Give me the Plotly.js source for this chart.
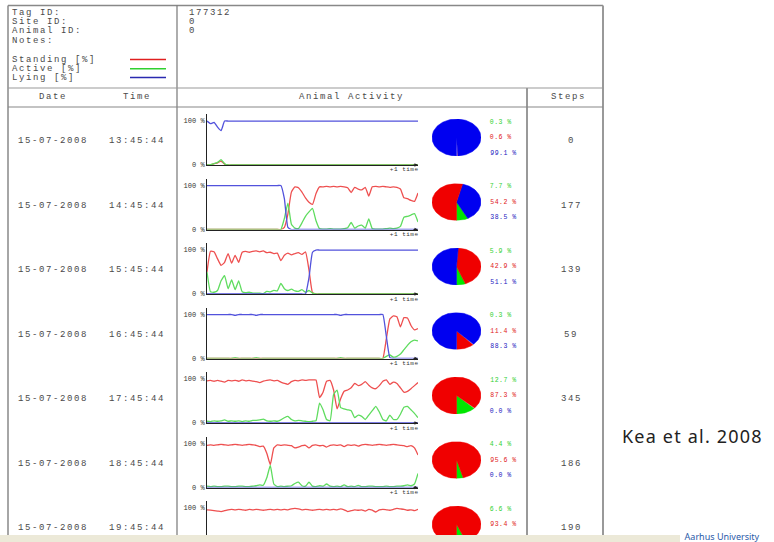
<!DOCTYPE html>
<html><head><meta charset="utf-8">
<script src="https://cdn.plot.ly/plotly-3.0.1.min.js"></script>
<style>html,body{margin:0;padding:0;overflow:hidden;background:#fff;width:774px;height:542px}#chart{width:774px;height:600px}
.annotation-text{letter-spacing:1.6px}</style>
</head><body><div id="chart"></div>
<script>
// ---------- DATA ----------
const dates = ["15-07-2008","15-07-2008","15-07-2008","15-07-2008","15-07-2008","15-07-2008","15-07-2008"];
const times = ["13:45:44","14:45:44","15:45:44","16:45:44","17:45:44","18:45:44","19:45:44"];
const steps = [0,177,139,59,345,186,190];
const activePct   = [0.3, 7.7, 5.9, 0.3, 12.7, 4.4, 6.6];
const standingPct = [0.6, 54.2, 42.9, 11.4, 87.3, 95.6, 93.4];
const lyingPct    = [99.1, 38.5, 51.1, 88.3, 0.0, 0.0, 0.0];
const minutes = [0,1,2,3,4,5,6,7,8,9,10,11,12,13,14,15,16,17,18,19,20,21,22,23,24,25,26,27,28,29,30,
 31,32,33,34,35,36,37,38,39,40,41,42,43,44,45,46,47,48,49,50,51,52,53,54,55,56,57,58,59,60];

const standing1 = [0,0,3,5,9,2,0,0,0,0, 0,0,0,0,0,0,0,0,0,0, 0,0,0,0,0,0,0,0,0,0, 0,0,0,0,0,0,0,0,0,0, 0,0,0,0,0,0,0,0,0,0, 0,0,0,0,0,0,0,0,0,0, 0];
const active1   = [0,1,3,6,12,3,0,0,0,0, 0,0,0,0,0,0,0,0,0,0, 0,0,0,0,0,0,0,0,0,0, 0,0,0,0,0,0,0,0,0,0, 0,0,0,0,0,0,0,0,0,0, 0,0,0,0,0,0,0,0,0,0, 0];
const lying1    = [100,94,97,86,78,100,100,100,100,100, 100,100,100,100,100,100,100,100,100,100, 100,100,100,100,100,100,100,100,100,100, 100,100,100,100,100,100,100,100,100,100, 100,100,100,100,100,100,100,100,100,100, 100,100,100,100,100,100,100,100,100,100, 100];

const standing2 = [0,0,0,0,0,0,0,0,0,0, 0,0,0,0,0,0,0,0,0,0, 0,0,5,35,85,97,95,85,72,62, 57,82,97,97,98,97,98,97,98,97, 95,84,96,92,90,96,76,97,98,97, 98,97,96,97,96,92,72,70,66,64, 83];
const active2   = [0,0,0,0,0,0,0,0,0,0, 0,0,0,0,0,0,0,0,0,0, 0,0,25,60,12,3,2,15,30,40, 48,20,2,1,1,2,1,1,1,2, 4,16,3,8,10,3,24,2,1,1, 1,2,3,2,3,7,28,30,33,36, 17];
const lying2    = [100,100,100,100,100,100,100,100,100,100, 100,100,100,100,100,100,100,100,100,100, 100,100,70,5,0,0,0,0,0,0, 0,0,0,0,0,0,0,0,0,0, 0,0,0,0,0,0,0,0,0,0, 0,0,0,0,0,0,0,0,0,0, 0];

const standing3 = [50,97,96,80,65,72,92,70,88,72, 95,97,95,97,98,96,98,94,95,92, 93,76,88,93,89,92,94,90,96,55, 3,0,0,0,0,0,0,0,0,0, 0,0,0,0,0,0,0,0,0,0, 0,0,0,0,0,0,0,0,0,0, 0];
const active3   = [50,5,4,8,30,42,12,32,10,30, 5,3,4,2,2,2,1,6,5,8, 7,24,12,8,11,7,6,10,4,8, 2,0,0,0,0,0,0,0,0,0, 0,0,0,0,0,0,0,0,0,0, 0,0,0,0,0,0,0,0,0,0, 0];
const lying3    = [0,0,0,0,0,0,0,0,0,0, 0,0,0,0,0,0,0,0,0,0, 0,0,0,0,0,0,0,0,0,37, 95,100,100,100,100,100,100,100,100,100, 100,100,100,100,100,100,100,100,100,100, 100,100,100,100,100,100,100,100,100,100, 100];

const standing4 = [0,0,0,0,0,0,0,0,0,0, 0,0,0,0,0,0,0,0,0,0, 0,0,0,0,0,0,0,0,0,0, 0,0,0,0,0,0,0,0,0,0, 0,0,0,0,0,0,0,0,0,0, 0,45,90,97,95,72,93,92,75,65, 68];
const active4   = [0,0,0,0,0,0,0,0,2,0, 0,0,0,0,2,0,0,0,0,0, 0,0,0,0,0,0,0,0,0,0, 0,0,0,0,0,0,0,0,2,0, 0,0,0,0,0,0,0,0,0,0, 0,5,8,3,5,10,20,30,38,42, 40];
const lying4    = [100,100,100,100,100,100,100,100,98,100, 100,100,100,100,98,100,100,100,100,100, 100,100,100,100,100,100,100,100,100,100, 100,100,100,100,100,100,100,100,98,100, 100,100,100,100,100,100,100,100,100,100, 100,50,2,0,0,0,0,0,0,0, 0];

const standing5 = [96,97,95,97,95,93,97,96,97,95, 98,96,97,95,94,92,95,97,98,96, 97,93,90,88,94,97,96,98,97,98, 98,98,58,70,95,97,75,32,55,72, 75,80,90,85,88,94,86,80,78,85, 95,98,88,93,90,80,70,72,78,85, 92];
const active5   = [4,3,5,4,5,7,4,5,4,5, 3,5,4,6,6,7,9,5,4,5, 4,7,12,15,8,5,6,5,4,3, 4,5,45,30,8,5,65,75,35,32, 30,28,12,18,15,8,18,28,38,25, 8,5,18,8,8,20,36,38,30,22, 12];
const lying5    = [0,0,0,0,0,0,0,0,0,0, 0,0,0,0,0,0,0,0,0,0, 0,0,0,0,0,0,0,0,0,0, 0,0,0,0,0,0,0,0,0,0, 0,0,0,0,0,0,0,0,0,0, 0,0,0,0,0,0,0,0,0,0, 0];

const standing6 = [96,97,96,97,98,97,96,97,98,97, 96,97,98,97,96,93,94,78,52,90, 97,96,97,96,95,90,92,95,96,90, 96,97,95,96,92,96,97,96,97,93, 97,96,97,94,97,98,97,96,97,98, 97,96,97,98,97,96,95,93,95,90, 74];
const active6   = [3,2,3,2,2,3,3,2,2,3, 3,2,2,3,4,6,5,22,50,8, 2,3,2,3,4,9,12,4,3,12, 3,2,4,3,8,3,2,3,2,6, 2,3,2,5,2,2,3,3,2,2, 2,3,2,2,3,3,4,6,4,8, 32];
const lying6    = [0,0,0,0,0,0,0,0,0,0, 0,0,0,0,0,0,0,0,0,0, 0,0,0,0,0,0,0,0,0,0, 0,0,0,0,0,0,0,0,0,0, 0,0,0,0,0,0,0,0,0,0, 0,0,0,0,0,0,0,0,0,0, 0];

const standing7 = [96,95,94,93,92,94,96,97,96,97, 96,95,97,96,97,96,95,96,97,96, 97,96,97,96,98,99,98,96,97,96, 95,96,97,96,97,96,97,96,98,96, 92,94,96,95,96,93,97,95,91,96, 97,96,95,97,99,98,97,95,96,94, 97];
const active7   = [4,5,6,7,8,6,4,3,4,3, 4,5,3,4,3,4,5,4,3,4, 3,4,3,4,2,1,2,4,3,4, 5,4,3,4,3,4,3,4,2,4, 8,6,4,5,4,7,3,5,9,4, 3,4,5,3,1,2,3,5,4,6, 3];
const lying7    = [0,0,0,0,0,0,0,0,0,0, 0,0,0,0,0,0,0,0,0,0, 0,0,0,0,0,0,0,0,0,0, 0,0,0,0,0,0,0,0,0,0, 0,0,0,0,0,0,0,0,0,0, 0,0,0,0,0,0,0,0,0,0, 0];

const legendNames = ["Standing [%]","Active [%]","Lying [%]"];

// ---------- BUILD ----------
const rowsStanding=[standing1,standing2,standing3,standing4,standing5,standing6,standing7];
const rowsActive=[active1,active2,active3,active4,active5,active6,active7];
const rowsLying=[lying1,lying2,lying3,lying4,lying5,lying6,lying7];

const W=774,H=600,GS=1.6;
const PX=x=>x/W, PY=y=>1-y/H;
const lineCol={s:'#ee5050',a:'#5fdc5f',l:'#5252dc'};
const pieCol={s:'#f00000',a:'#00e600',l:'#0000f0'};
const labCol={s:'#e02020',a:'#30d030',l:'#2020c0'};
const mono='"Liberation Mono", "DejaVu Sans Mono", monospace';
const txtCol='#4a4a4a';

const traces=[], layout={width:W,height:H,margin:{l:0,r:0,t:0,b:0},paper_bgcolor:'#fff',plot_bgcolor:'rgba(0,0,0,0)',showlegend:false,annotations:[],shapes:[]};
const spacingOverride=[]; // [annotation index, letter-spacing px] (left-anchored texts only)
function T(text,x,y,anchor,size,color,family,spacing){
  const a={xref:'paper',yref:'paper',x:PX(x),y:PY(y),text:text,showarrow:false,xanchor:anchor,yanchor:'middle',font:{family:family||mono,size:size,color:color||txtCol}};
  if(spacing!==undefined){ a.xshift=-(text.length*(GS-spacing))/2; }
  layout.annotations.push(a);
  if(spacing!==undefined) spacingOverride.push([layout.annotations.length-1,spacing]);
}

const rowStep=64.5;
for(let k=0;k<7;k++){
  const last=(k===6);
  const zeroY=165+rowStep*k, topY=zeroY-51;
  const xn=k===0?'':String(k+1);
  layout['xaxis'+xn]={domain:[PX(207),PX(418)],range:[0,60],anchor:'y'+xn,showline:true,linecolor:'#222',linewidth:1,showgrid:false,zeroline:false,showticklabels:false,ticks:'',fixedrange:true};
  layout['yaxis'+xn]={domain:[PY(zeroY),PY(topY)],range:[0,116],anchor:'x'+xn,showline:true,linecolor:'#222',linewidth:1,showgrid:false,zeroline:false,
    tickvals:last?[100]:[0,100],ticktext:last?['100 %']:['0 %','100 %'],ticks:'',tickfont:{family:mono,size:7,color:'#333'},fixedrange:true};
  const ser=[[rowsStanding[k],lineCol.s],[rowsActive[k],lineCol.a],[rowsLying[k],lineCol.l]];
  ser.forEach(([y,c])=>traces.push({type:'scatter',mode:'lines',x:minutes,y:y,xaxis:'x'+xn,yaxis:'y'+xn,line:{color:c,width:1.3,shape:'spline',smoothing:0.4},hoverinfo:'skip'}));
  if(!last){
    layout.annotations.push({xref:'x'+xn,yref:'y'+xn,x:60,y:0,ax:-6,ay:0,text:'',showarrow:true,arrowhead:2,arrowsize:0.7,arrowwidth:1,arrowcolor:'#222'});
    const lbl='+1 time';
    layout.annotations.push({xref:'x'+xn,yref:'y'+xn,x:60,y:0,yshift:-5,xshift:-30-(lbl.length*(GS-0.5))/2,text:lbl,showarrow:false,xanchor:'left',yanchor:'middle',font:{family:mono,size:6,color:'#333'}});
    spacingOverride.push([layout.annotations.length-1,0.5]);
  }

  // pie on its own axis pair (elliptical like the reference)
  const pn=String(k+8), cy=zeroY-27.5;
  layout['xaxis'+pn]={domain:[PX(432),PX(481)],range:[-1,1],anchor:'y'+pn,visible:false,fixedrange:true};
  layout['yaxis'+pn]={domain:[PY(cy+18.5),PY(cy-18.5)],range:[-1,1],anchor:'x'+pn,visible:false,fixedrange:true};
  const slices=[{v:activePct[k],c:pieCol.a},{v:standingPct[k],c:pieCol.s},{v:lyingPct[k],c:pieCol.l}];
  const tot=slices.reduce((s,o)=>s+o.v,0);
  const sorted=slices.map((o,i)=>({...o,i})).sort((a,b)=>a.v-b.v||a.i-b.i);
  let ang=270;
  sorted.forEach(o=>{
    const span=o.v/tot*360; if(span<=0) return;
    const n=Math.max(2,Math.ceil(span/2)); const xs=[0],ys=[0];
    for(let j=0;j<=n;j++){const a=(ang+span*j/n)*Math.PI/180; xs.push(Math.cos(a)); ys.push(Math.sin(a));}
    xs.push(0);ys.push(0);
    traces.push({type:'scatter',mode:'lines',x:xs,y:ys,xaxis:'x'+pn,yaxis:'y'+pn,fill:'toself',fillcolor:o.c,line:{color:o.c,width:span<3?0:0.5},hoverinfo:'skip'});
    ang+=span;
  });
  // pie labels
  const labs=[[activePct[k],labCol.a,-15.5],[standingPct[k],labCol.s,0]];
  if(!last) labs.push([lyingPct[k],labCol.l,15.5]);
  labs.forEach(([v,c,dy])=>T(v.toFixed(1)+' %',488,cy+dy,'left',6.5,c,mono,0.5));
  // row texts
  const ty=zeroY-24;
  T(dates[k],53,ty,'center',9);
  T(times[k],137,ty,'center',9);
  T(String(steps[k]),571,ty,'center',9);
}

// header texts
[["Tag ID:",10,12.5],["Site ID:",10,22],["Animal ID:",10,31.5],["Notes:",10,41],
 [legendNames[0],10,60],[legendNames[1],10,69],[legendNames[2],10,78],
 ["177312",187,12.5],["0",187,22],["0",187,31.5]].forEach(([t,x,y])=>T(t,x,y,'left',9));
[["Date",53],["Time",137],["Animal Activity",351],["Steps",568]].forEach(([t,x])=>T(t,x,97,'center',9));
// legend swatches
[[59.5,labCol.s],[68.8,'#30d030'],[77.5,'#2a2ab0']].forEach(([y,c])=>layout.shapes.push({type:'line',xref:'paper',yref:'paper',x0:PX(130),x1:PX(166),y0:PY(y),y1:PY(y),line:{color:c,width:1.5}}));

// table grid
const L=(x0,y0,x1,y1,c,w)=>layout.shapes.push({type:'line',xref:'paper',yref:'paper',x0:PX(x0),x1:PX(x1),y0:PY(y0),y1:PY(y1),line:{color:c,width:w},layer:'below'});
L(8,5.5,603,5.5,'#888',1.5);
L(8,5.5,8,542,'#888',1.5);
L(177,5.5,177,542,'#777',1.2);
L(527,88,527,542,'#999',2);
L(603,5.5,603,542,'#999',2);
L(8,88,603,88,'#999',1);
L(8,107,603,107,'#888',1.2);

// bottom strip & captions
layout.shapes.push({type:'rect',xref:'paper',yref:'paper',x0:0,x1:PX(680),y0:PY(542),y1:PY(535),fillcolor:'#ece9d8',line:{width:0},layer:'above'});
T('Kea et al. 2008',620,436,'left',18,'#222','"Noto Sans", sans-serif',1.2);
T('Aarhus University',683,536.5,'left',9,'#2a5aa8','"Noto Sans", sans-serif',0);

const css=spacingOverride.map(([i,s])=>`.annotation[data-index="${i}"] text{letter-spacing:${s}px}`).join('\n');
const st=document.createElement('style'); st.textContent=css; document.head.appendChild(st);

Plotly.newPlot('chart',traces,layout,{staticPlot:true,displayModeBar:false});
</script></body></html>
